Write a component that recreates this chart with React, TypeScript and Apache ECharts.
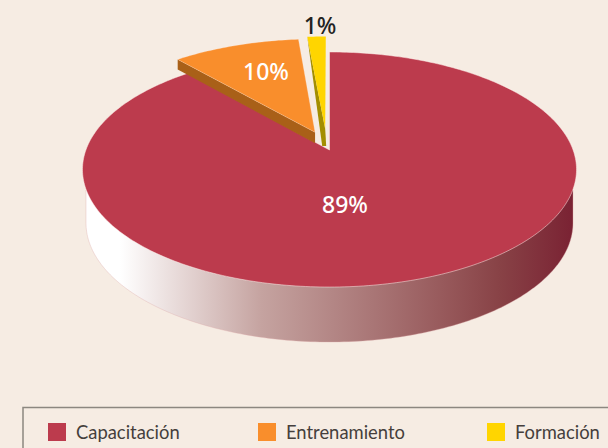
import React, { useEffect, useRef } from "react";
import * as echarts from "echarts";

const categories = ["Capacitación", "Entrenamiento", "Formación"];
const shares = [88.6, 9.95, 1.45];
const colors = ["#bc3b4d", "#f98e2c", "#ffd500"];
const wallColors = ["#000000", "#a96018", "#a38e00"];
const edgeColors = ["rgba(255,240,235,0.5)", "rgba(255,240,235,0.25)", "rgba(255,240,235,0)"];
const explode = [0, 0.17, 0.19];
const explodeAngles = [0, 339, 354.5];
const labelColors = ["#ffffff", "#ffffff", "#222222"];
const labelPositions = [[345, 204], [266, 71], [320, 25]];
const legendLefts = [48, 258, 487];

const APEX_X = 329.5, APEX_Y = 150, K = 0.166, A = 114.3, B = 243.6;
const total = shares.reduce((a, b) => a + b, 0);

function project(X: number, Y: number): number[] {
  const w = 1 - K * Y;
  return [APEX_X + (B * X) / w, APEX_Y + (A * Y) / w];
}

function renderSlice(index: number) {
  return (_params: any, api: any) => {
    const value = api.value(0);
    const before = shares.slice(0, index).reduce((a, b) => a + b, 0);
    const a0 = (before / total) * Math.PI * 2;
    const a1 = a0 + (value / total) * Math.PI * 2;
    const dir = (explodeAngles[index] * Math.PI) / 180;
    const ox = Math.sin(dir) * explode[index];
    const oy = -Math.cos(dir) * explode[index];
    const apex = project(ox, oy);
    const pts: number[][] = [apex];
    const n = Math.max(4, Math.ceil((a1 - a0) * 60));
    for (let i = 0; i <= n; i++) {
      const a = a0 + ((a1 - a0) * i) / n;
      pts.push(project(Math.sin(a) + ox, -Math.cos(a) + oy));
    }
    const children: any[] = [];
    if (index === 0) {
      const wall: number[][] = [[86, 190]];
      for (let i = 0; i <= 160; i++) {
        const t = Math.PI - (Math.PI * i) / 160;
        wall.push([APEX_X + 243.5 * Math.cos(t), 223 + 119 * Math.sin(t)]);
      }
      wall.push([573, 190]);
      children.push({
        type: "polygon",
        shape: { points: wall },
        style: {
          fill: new echarts.graphic.LinearGradient(0, 0, 1, 0, [
            { offset: 0, color: "#ffffff" },
            { offset: 0.07, color: "#ffffff" },
            { offset: 0.36, color: "#c5a3a0" },
            { offset: 0.73, color: "#985a5c" },
            { offset: 0.85, color: "#884246" },
            { offset: 1, color: "#7a2233" },
          ]),
          stroke: "rgba(220,170,170,0.35)",
          lineWidth: 1,
        },
      });
    }
    if (index === 1) {
      const outer = pts[1];
      children.push({
        type: "polygon",
        shape: { points: [outer, apex, [apex[0], apex[1] + 11], [outer[0], outer[1] + 10]] },
        style: { fill: wallColors[index] },
      });
    }
    if (index === 2) {
      const outer = pts[1];
      children.push({
        type: "polygon",
        shape: { points: [outer, apex, [apex[0] + 1, apex[1] + 17], [apex[0] - 3, apex[1] + 17]] },
        style: { fill: wallColors[index] },
      });
    }
    children.push({
      type: "polygon",
      shape: { points: pts },
      style: { fill: colors[index], stroke: edgeColors[index], lineWidth: 1 },
    });
    children.push({
      type: "text",
      x: labelPositions[index][0],
      y: labelPositions[index][1],
      style: {
        text: `${Math.round(value)}%`,
        fill: labelColors[index],
        font: '500 23px "Noto Sans"',
        align: "center",
        verticalAlign: "middle",
      },
    });
    return { type: "group", children };
  };
}

export default function App() {
  const ref = useRef<HTMLDivElement>(null);
  useEffect(() => {
    document.body.style.margin = "0";
    const chart = echarts.init(ref.current!, null, { renderer: "svg" });
    chart.setOption({
      animation: false,
      backgroundColor: "#f6ece3",
      graphic: [
        {
          type: "rect",
          shape: { x: 23, y: 407.5, width: 700, height: 100 },
          style: { fill: "none", stroke: "#8c8780", lineWidth: 1.5 },
        },
      ],
      legend: categories.map((name, i) => ({
        data: [name],
        left: legendLefts[i],
        top: 423,
        itemWidth: 18,
        itemHeight: 18,
        icon: "rect",
        selectedMode: false,
        padding: 0,
        textStyle: {
          fontFamily: "Lato",
          fontSize: 18.4,
          color: "#453f3c",
          padding: [0, 0, 0, 5],
        },
      })),
      series: categories.map((name, i) => ({
        type: "custom",
        name,
        coordinateSystem: "none",
        silent: true,
        itemStyle: { color: colors[i] },
        data: [[shares[i]]],
        renderItem: renderSlice(i),
      })),
    });
    return () => chart.dispose();
  }, []);
  return <div ref={ref} style={{ width: 608, height: 448 }} />;
}
